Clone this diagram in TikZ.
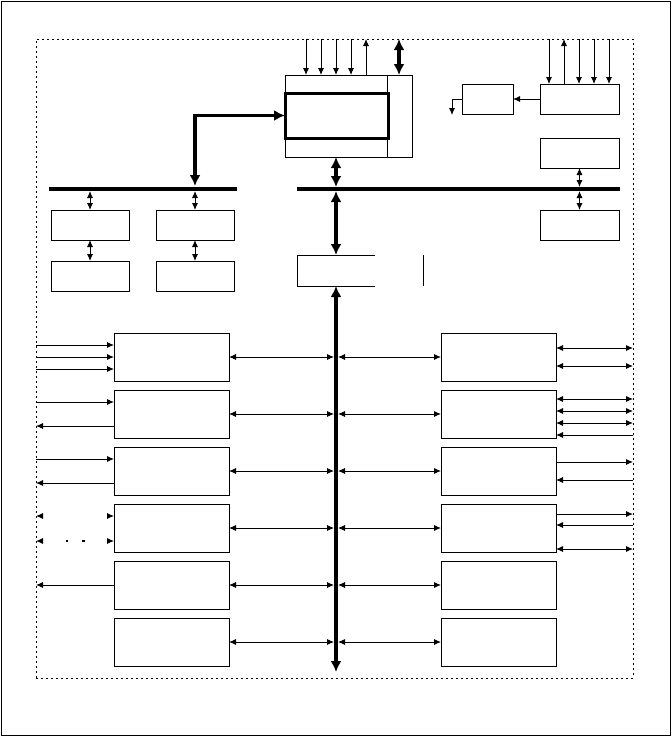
\documentclass[tikz,border=0pt]{standalone}
\usetikzlibrary{arrows.meta}
\begin{document}
\begin{tikzpicture}[x=1pt,y=-1pt,
  box/.style={draw, line width=0.9pt, inner sep=0pt, outer sep=0pt, anchor=north west},
  lbox/.style={box, minimum width=115pt, minimum height=48pt},
  sbox/.style={box, minimum width=78pt, minimum height=30pt},
  thin/.style={line width=0.9pt},
  ra/.style={thin, -{Latex[length=7pt,width=6pt]}},
  la/.style={thin, {Latex[length=7pt,width=6pt]}-},
  da/.style={thin, {Latex[length=7pt,width=6pt]}-{Latex[length=7pt,width=6pt]}},
  thickda/.style={line width=3.5pt, {Latex[length=11pt,width=11pt]}-{Latex[length=11pt,width=11pt]}},
  busline/.style={line width=4pt},
]
\useasboundingbox (0,0) rectangle (672,737);
\draw[line width=1.5pt] (1.5,1.5) rectangle (670.5,735.5);
\node[draw, dash pattern=on 2pt off 3pt, line width=0.8pt, inner sep=0pt, outer sep=0pt,
      minimum width=597pt, minimum height=639pt, anchor=north west] (frame) at (36,39) {};

% top centre block
\node[box, minimum width=127pt, minimum height=82pt] (T) at (285,75) {};
\coordinate (Tdiv) at (387,75);
\draw[thin] (Tdiv) -- (Tdiv |- T.south);
\node[box, line width=3pt, minimum width=103pt, minimum height=45pt] (C) at (285,93) {};
\foreach \x in {306,321,336,351} \draw[ra] (\x,0 |- frame.north) -- (\x,0 |- T.north);
\draw[la] (366,0 |- frame.north) -- (366,0 |- T.north);
\draw[thickda] (399,0 |- frame.north) -- (399,0 |- T.north);

% buses
\coordinate (lb1) at (49,189); \coordinate (lb2) at (237,189);
\coordinate (rb1) at (297,189); \coordinate (rb2) at (620,189);
\draw[busline] (lb1) -- (lb2);
\draw[busline] (rb1) -- (rb2);

% left top boxes
\node[sbox] (a1) at (51,210) {};
\node[sbox] (a2) at (156,210) {};
\node[sbox] (a3) at (51,261) {};
\node[sbox] (a4) at (156,261) {};
\coordinate (lbu) at (0,191);
\draw[da] (a1.north |- lbu) -- (a1.north);
\draw[da] (a2.north |- lbu) -- (a2.north);
\draw[da] (a1.south) -- (a3.north);
\draw[da] (a2.south) -- (a4.north);
\coordinate (lbt) at (195,186);
\draw[thickda] (C.west) -- (lbt |- C.west) -- (lbt);

% right top boxes
\node[box, minimum width=79pt, minimum height=30pt] (A) at (540,84) {};
\node[box, minimum width=51pt, minimum height=30pt] (S) at (462,84) {};
\node[box, minimum width=79pt, minimum height=30pt] (B) at (540,138) {};
\node[box, minimum width=79pt, minimum height=30pt] (D) at (540,210) {};
\foreach \x in {549,579,594,609} \draw[ra] (\x,0 |- frame.north) -- (\x,0 |- A.north);
\draw[la] (564,0 |- frame.north) -- (564,0 |- A.north);
\draw[ra] (A.west) -- (S.east);
\draw[ra] (S.west) -- ++(-10,0) -- ++(0,16);
\coordinate (rbt) at (0,187); \coordinate (rbb) at (0,191);
\draw[da] (B.south) -- (B.south |- rbt);
\draw[da] (D.north |- rbb) -- (D.north);

% centre
\node[inner sep=0pt, outer sep=0pt, minimum width=126pt, minimum height=31pt, anchor=north west] (M) at (297,255) {};
\draw[thin] (M.north west) ++(78,0) -- (M.north west) -- (M.south west) -- ++(78,0);
\draw[thin] (M.north east) -- (M.south east);
\coordinate (vx) at (336,0);
\draw[thickda] (vx |- T.south) -- (vx |- rbt);
\draw[thickda] (vx |- rbb) -- (vx |- M.north);
\coordinate (vbend) at (336,672);
\draw[thickda] (vx |- M.south) -- (vbend);

% lower boxes
\foreach \i in {1,...,6} {
  \node[lbox] (L\i) at (114,{333+57*(\i-1)}) {};
  \node[lbox] (R\i) at (441,{333+57*(\i-1)}) {};
}
\coordinate (vbl) at (334,0); \coordinate (vbr) at (338,0);
\foreach \i in {1,...,6} {
  \draw[da] (L\i.east) -- (L\i.east -| vbl);
  \draw[da] (R\i.west) -- (R\i.west -| vbr);
}

% left side signals
\foreach \y in {345,357,369,402,459} \draw[ra] (frame.west |- 0,\y) -- (L1.west |- 0,\y);
\foreach \y in {426,483,585} \draw[la] (frame.west |- 0,\y) -- (L1.west |- 0,\y);
\draw[da, dash pattern=on 0pt off 300pt] (frame.west |- 0,516) -- (L4.west |- 0,516);
\draw[da, dash pattern=on 0pt off 300pt] (frame.west |- 0,541) -- (L4.west |- 0,541);
\fill (65.5,539.5) rectangle ++(2.5,2.5);
\fill (82,539.5) rectangle ++(2.5,2.5);

% right side signals
\foreach \y in {348,366,399,411,423,549} \draw[da] (R1.east |- 0,\y) -- (frame.east |- 0,\y);
\foreach \y in {462,514} \draw[ra] (R1.east |- 0,\y) -- (frame.east |- 0,\y);
\foreach \y in {435,480,525} \draw[la] (R1.east |- 0,\y) -- (frame.east |- 0,\y);
\end{tikzpicture}
\end{document}
